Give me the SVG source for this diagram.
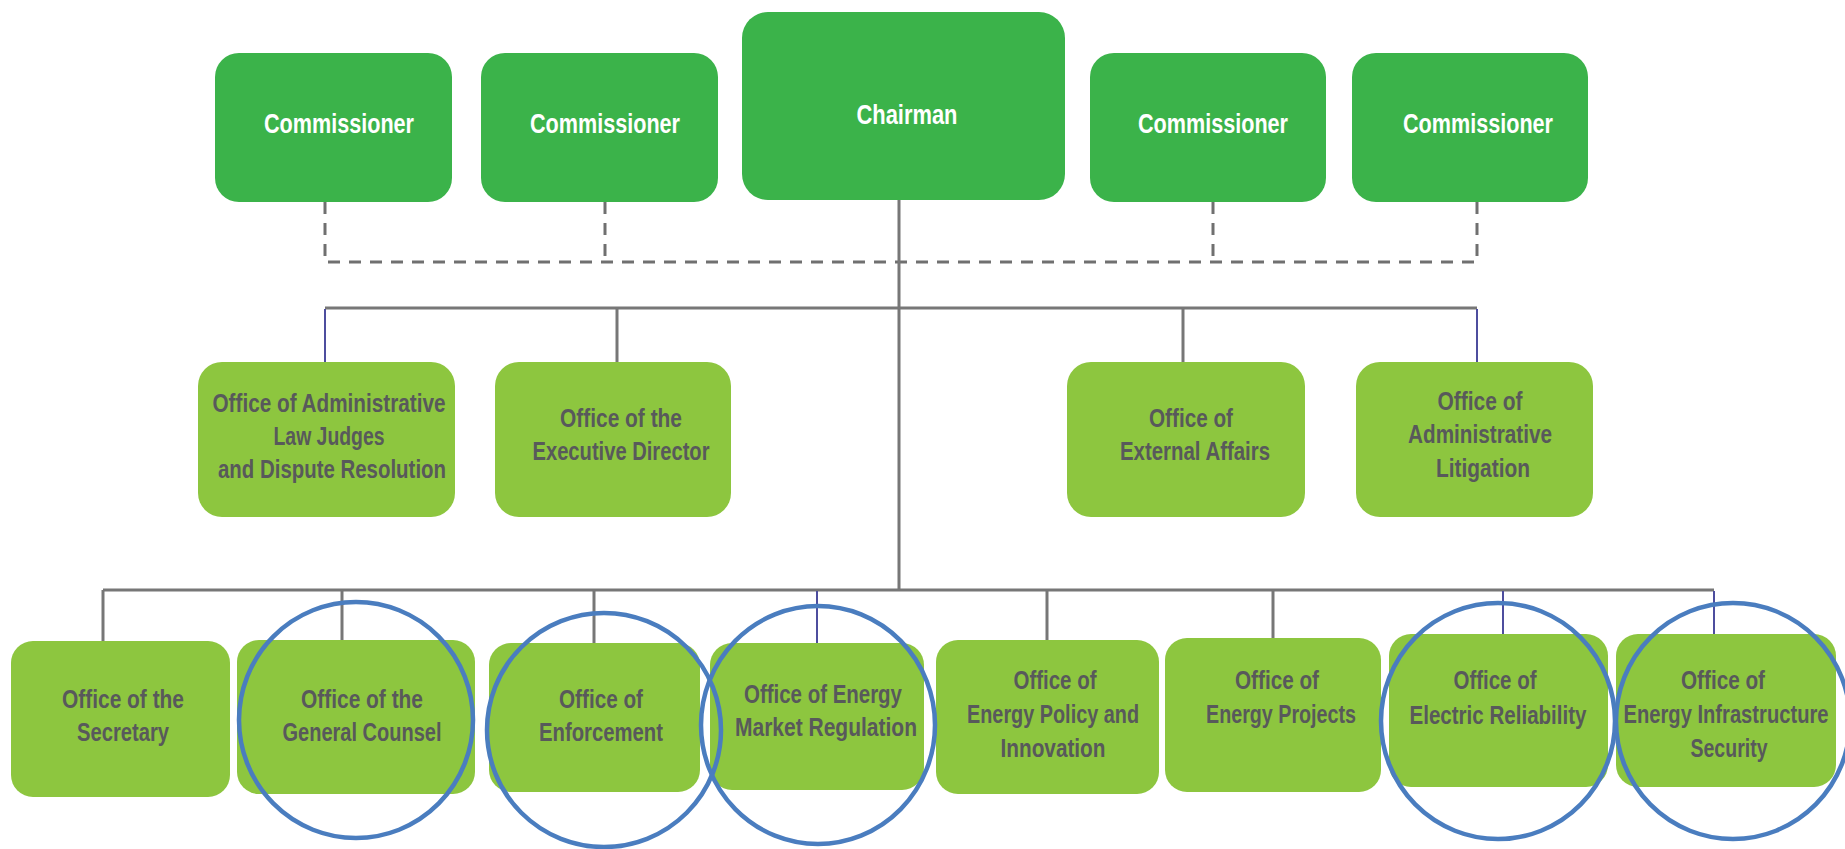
<svg xmlns="http://www.w3.org/2000/svg" width="1845" height="849" viewBox="0 0 1845 849">
<style>
.top{fill:#3bb34a}
.off{fill:#8dc63f}
.tw{fill:#ffffff;font-family:"Liberation Sans Narrow","Liberation Sans",sans-serif;font-weight:bold;font-size:28px;text-anchor:middle}
.tg{fill:#58595b;font-family:"Liberation Sans Narrow","Liberation Sans",sans-serif;font-weight:bold;font-size:26px;text-anchor:middle}
.ln{stroke:#777777;stroke-width:3;fill:none}
.bl{stroke:#4d4d9e;stroke-width:2;fill:none}
.ds{stroke:#707070;stroke-width:3;fill:none;stroke-dasharray:12 9}
.ring{fill:none;stroke:#4a7dbf;stroke-width:4.5}
</style>
<rect width="1845" height="849" fill="#ffffff"/>
<g id="connectors">
<path class="ds" d="M325 202 V262 H1477 V202"/>
<path class="ds" d="M605 202 V262"/>
<path class="ds" d="M1213 202 V262"/>
<path class="ln" d="M899 200 V590"/>
<path class="ln" d="M325 308 H1477"/>
<path class="bl" d="M325 309 V362"/>
<path class="ln" d="M617 308 V362"/>
<path class="ln" d="M1183 308 V362"/>
<path class="bl" d="M1477 309 V362"/>
<path class="ln" d="M103 590 H1714"/>
<path class="ln" d="M103 590 V641"/>
<path class="ln" d="M342 590 V640"/>
<path class="ln" d="M594 590 V643"/>
<path class="bl" d="M817 591 V643"/>
<path class="ln" d="M1047 590 V640"/>
<path class="ln" d="M1273 590 V638"/>
<path class="bl" d="M1503 591 V634"/>
<path class="bl" d="M1714 591 V634"/>
</g>
<g id="commissioner1"><rect class="top" x="215" y="53" width="237" height="149" rx="24"/><text class="tw" x="339" y="133" textLength="150" lengthAdjust="spacingAndGlyphs">Commissioner</text></g>
<g id="commissioner2"><rect class="top" x="481" y="53" width="237" height="149" rx="24"/><text class="tw" x="605" y="133" textLength="150" lengthAdjust="spacingAndGlyphs">Commissioner</text></g>
<g id="chairman"><rect class="top" x="742" y="12" width="323" height="188" rx="26"/><text class="tw" x="907" y="124" font-size="30" textLength="101" lengthAdjust="spacingAndGlyphs">Chairman</text></g>
<g id="commissioner3"><rect class="top" x="1090" y="53" width="236" height="149" rx="24"/><text class="tw" x="1213" y="133" textLength="150" lengthAdjust="spacingAndGlyphs">Commissioner</text></g>
<g id="commissioner4"><rect class="top" x="1352" y="53" width="236" height="149" rx="24"/><text class="tw" x="1478" y="133" textLength="150" lengthAdjust="spacingAndGlyphs">Commissioner</text></g>

<g id="alj"><rect class="off" x="198" y="362" width="257" height="155" rx="24"/>
<text class="tg" x="329" y="412" textLength="233" lengthAdjust="spacingAndGlyphs">Office of Administrative</text>
<text class="tg" x="329" y="445" textLength="111" lengthAdjust="spacingAndGlyphs">Law Judges</text>
<text class="tg" x="332" y="478" textLength="228" lengthAdjust="spacingAndGlyphs">and Dispute Resolution</text></g>
<g id="executive-director"><rect class="off" x="495" y="362" width="236" height="155" rx="24"/>
<text class="tg" x="621" y="427" textLength="122" lengthAdjust="spacingAndGlyphs">Office of the</text>
<text class="tg" x="621" y="460" textLength="177" lengthAdjust="spacingAndGlyphs">Executive Director</text></g>
<g id="external-affairs"><rect class="off" x="1067" y="362" width="238" height="155" rx="24"/>
<text class="tg" x="1191" y="427" textLength="84" lengthAdjust="spacingAndGlyphs">Office of</text>
<text class="tg" x="1195" y="460" textLength="150" lengthAdjust="spacingAndGlyphs">External Affairs</text></g>
<g id="administrative-litigation"><rect class="off" x="1356" y="362" width="237" height="155" rx="24"/>
<text class="tg" x="1480" y="410" textLength="85" lengthAdjust="spacingAndGlyphs">Office of</text>
<text class="tg" x="1480" y="443" textLength="144" lengthAdjust="spacingAndGlyphs">Administrative</text>
<text class="tg" x="1483" y="477" textLength="94" lengthAdjust="spacingAndGlyphs">Litigation</text></g>

<g id="secretary"><rect class="off" x="11" y="641" width="219" height="156" rx="22"/>
<text class="tg" x="123" y="708" textLength="122" lengthAdjust="spacingAndGlyphs">Office of the</text>
<text class="tg" x="123" y="741" textLength="92" lengthAdjust="spacingAndGlyphs">Secretary</text></g>
<g id="general-counsel"><rect class="off" x="237" y="640" width="238" height="154" rx="22"/>
<text class="tg" x="362" y="708" textLength="122" lengthAdjust="spacingAndGlyphs">Office of the</text>
<text class="tg" x="362" y="741" textLength="159" lengthAdjust="spacingAndGlyphs">General Counsel</text></g>
<g id="enforcement"><rect class="off" x="489" y="643" width="211" height="149" rx="22"/>
<text class="tg" x="601" y="708" textLength="84" lengthAdjust="spacingAndGlyphs">Office of</text>
<text class="tg" x="601" y="741" textLength="124" lengthAdjust="spacingAndGlyphs">Enforcement</text></g>
<g id="market-regulation"><rect class="off" x="710" y="643" width="214" height="147" rx="22"/>
<text class="tg" x="823" y="703" textLength="158" lengthAdjust="spacingAndGlyphs">Office of Energy</text>
<text class="tg" x="826" y="736" textLength="182" lengthAdjust="spacingAndGlyphs">Market Regulation</text></g>
<g id="policy-innovation"><rect class="off" x="936" y="640" width="223" height="154" rx="22"/>
<text class="tg" x="1055" y="689" textLength="83" lengthAdjust="spacingAndGlyphs">Office of</text>
<text class="tg" x="1053" y="723" textLength="172" lengthAdjust="spacingAndGlyphs">Energy Policy and</text>
<text class="tg" x="1053" y="757" textLength="105" lengthAdjust="spacingAndGlyphs">Innovation</text></g>
<g id="energy-projects"><rect class="off" x="1165" y="638" width="216" height="154" rx="22"/>
<text class="tg" x="1277" y="689" textLength="84" lengthAdjust="spacingAndGlyphs">Office of</text>
<text class="tg" x="1281" y="723" textLength="150" lengthAdjust="spacingAndGlyphs">Energy Projects</text></g>
<g id="electric-reliability"><rect class="off" x="1389" y="634" width="219" height="153" rx="22"/>
<text class="tg" x="1495" y="689" textLength="83" lengthAdjust="spacingAndGlyphs">Office of</text>
<text class="tg" x="1498" y="724" textLength="177" lengthAdjust="spacingAndGlyphs">Electric Reliability</text></g>
<g id="infrastructure-security"><rect class="off" x="1616" y="634" width="220" height="153" rx="22"/>
<text class="tg" x="1723" y="689" textLength="84" lengthAdjust="spacingAndGlyphs">Office of</text>
<text class="tg" x="1726" y="723" textLength="205" lengthAdjust="spacingAndGlyphs">Energy Infrastructure</text>
<text class="tg" x="1729" y="757" textLength="77" lengthAdjust="spacingAndGlyphs">Security</text></g>

<g id="highlights">
<ellipse class="ring" cx="356" cy="720" rx="117" ry="118"/>
<ellipse class="ring" cx="604" cy="730" rx="117" ry="117"/>
<ellipse class="ring" cx="818" cy="725" rx="117" ry="119"/>
<ellipse class="ring" cx="1498" cy="721" rx="117" ry="118"/>
<ellipse class="ring" cx="1733" cy="721" rx="117" ry="118"/>
</g>
</svg>
